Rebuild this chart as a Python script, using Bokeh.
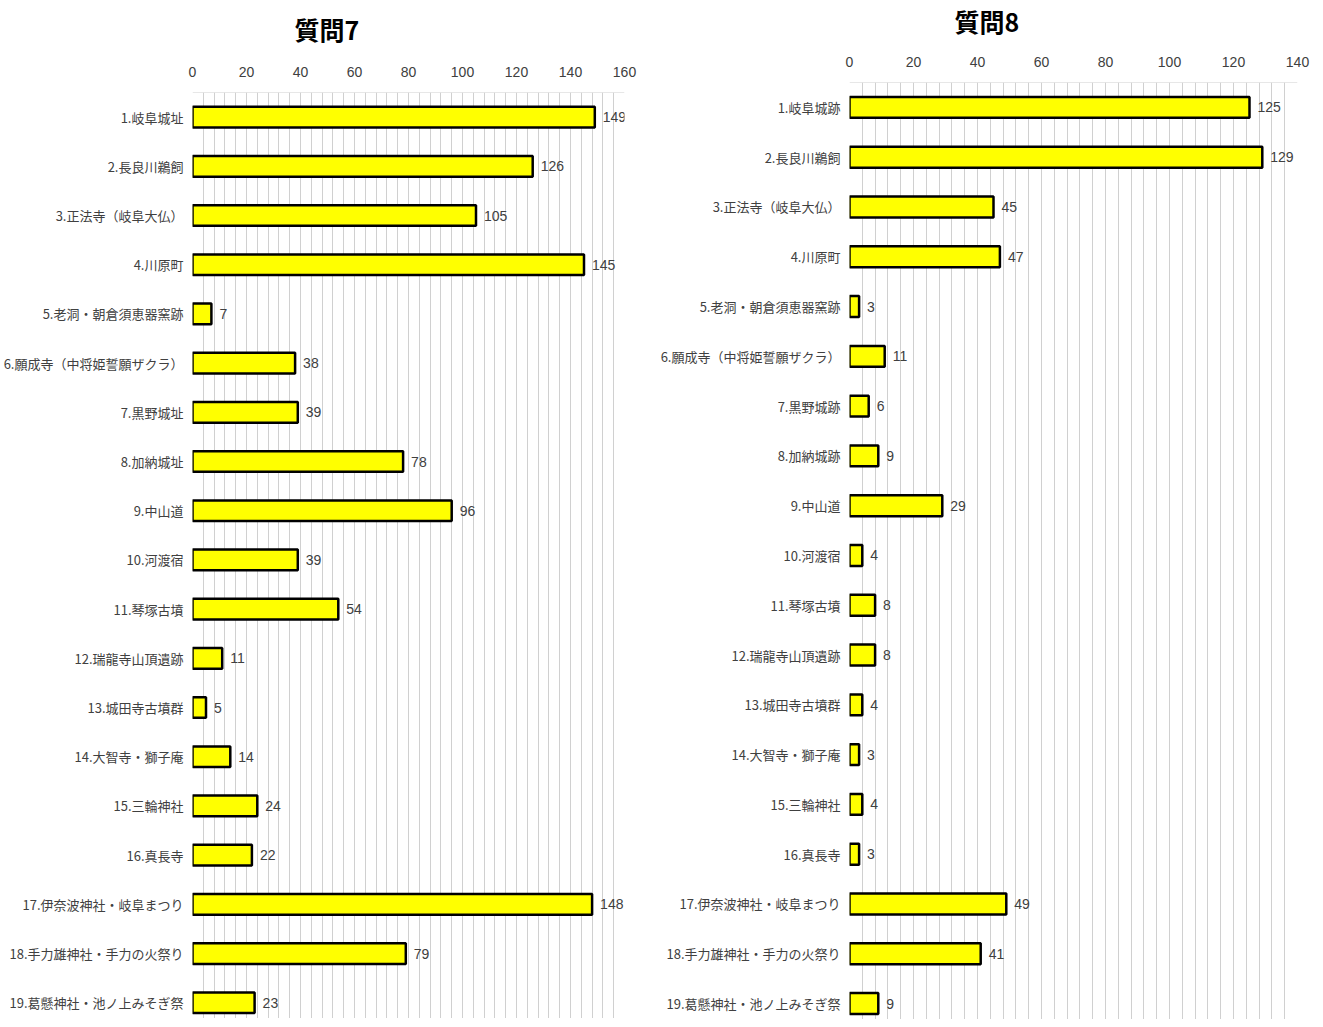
from bokeh.plotting import figure
from bokeh.layouts import row
from bokeh.models import Range1d, FixedTicker, SingleIntervalTicker, ColumnDataSource, Span
from bokeh.core.properties import value
from bokeh.embed import file_html
from bokeh.resources import INLINE

labels_q7 = ["1.岐阜城址", "2.長良川鵜飼", "3.正法寺（岐阜大仏）", "4.川原町", "5.老洞・朝倉須恵器窯跡",
             "6.願成寺（中将姫誓願ザクラ）", "7.黒野城址", "8.加納城址", "9.中山道", "10.河渡宿",
             "11.琴塚古墳", "12.瑞龍寺山頂遺跡", "13.城田寺古墳群", "14.大智寺・獅子庵", "15.三輪神社",
             "16.真長寺", "17.伊奈波神社・岐阜まつり", "18.手力雄神社・手力の火祭り", "19.葛懸神社・池ノ上みそぎ祭"]
values_q7 = [149, 126, 105, 145, 7, 38, 39, 78, 96, 39, 54, 11, 5, 14, 24, 22, 148, 79, 23]

labels_q8 = ["1.岐阜城跡", "2.長良川鵜飼", "3.正法寺（岐阜大仏）", "4.川原町", "5.老洞・朝倉須恵器窯跡",
             "6.願成寺（中将姫誓願ザクラ）", "7.黒野城跡", "8.加納城跡", "9.中山道", "10.河渡宿",
             "11.琴塚古墳", "12.瑞龍寺山頂遺跡", "13.城田寺古墳群", "14.大智寺・獅子庵", "15.三輪神社",
             "16.真長寺", "17.伊奈波神社・岐阜まつり", "18.手力雄神社・手力の火祭り", "19.葛懸神社・池ノ上みそぎ祭"]
values_q8 = [125, 129, 45, 47, 3, 11, 6, 9, 29, 4, 8, 8, 4, 3, 4, 3, 49, 41, 9]

title_q7 = "質問7"
title_q8 = "質問8"
xmax_q7 = 160
xmax_q8 = 140

JP = "Noto Sans CJK JP"
NUM = "Liberation Sans Narrow, Liberation Sans, sans-serif"
TXT = "#404040"
GRID = "#d0d0d0"


def make_chart(title, labels, vals, xmax, fw, fh, bl, br, bt, ybottom,
               title_offset, title_gap, tick_standoff):
    n = len(labels)
    idx = list(range(n))
    src = ColumnDataSource(dict(y=idx, v=vals, t=[str(v) for v in vals]))
    p = figure(frame_width=fw, frame_height=fh, output_backend="svg", toolbar_location=None,
               x_range=Range1d(0, xmax), y_range=Range1d(ybottom, -0.5),
               x_axis_location="above", title=title,
               min_border_left=bl, min_border_right=br, min_border_top=bt, min_border_bottom=0)
    p.frame_align = False
    p.title.text_font = JP
    p.title.text_font_size = "25px"
    p.title.text_font_style = "bold"
    p.title.text_color = "#000000"
    p.title.align = "left"
    p.title.offset = title_offset
    p.title.standoff = 0
    p.title.padding = dict(left=0, right=0, top=0, bottom=title_gap)

    p.add_layout(Span(location=-0.5, dimension="width", line_color=GRID, line_width=1))

    p.hbar(y="y", left=0, right="v", height=0.42, source=src,
           fill_color="#FFFF00", line_color="#000000", line_width=2.5)
    p.text(x="v", y="y", text="t", source=src, x_offset=8,
           text_baseline="middle", text_align="left",
           text_font=value(NUM), text_font_size="14px", text_color=TXT)

    xa = p.xaxis[0]
    xa.ticker = SingleIntervalTicker(interval=20, num_minor_ticks=0)
    xa.axis_line_color = None
    xa.major_tick_line_color = None
    xa.minor_tick_line_color = None
    xa.major_label_text_font = NUM
    xa.major_label_text_font_size = "14px"
    xa.major_label_text_color = TXT
    xa.major_label_standoff = tick_standoff

    ya = p.yaxis[0]
    ya.ticker = FixedTicker(ticks=idx)
    ya.major_label_overrides = {i: labels[i] for i in idx}
    ya.axis_line_color = None
    ya.major_tick_line_color = None
    ya.minor_tick_line_color = None
    ya.major_tick_in = 0
    ya.major_tick_out = 0
    ya.major_label_text_font = JP
    ya.major_label_text_font_size = "13px"
    ya.major_label_text_color = TXT
    ya.major_label_standoff = 9

    p.xgrid.ticker = SingleIntervalTicker(interval=4)
    p.xgrid.grid_line_color = GRID
    p.xgrid.grid_line_width = 1
    p.ygrid.grid_line_color = None
    p.outline_line_color = None
    p.background_fill_color = "white"
    p.border_fill_color = "white"
    return p


p1 = make_chart(title_q7, labels_q7, values_q7, xmax_q7, 432, 926, 185, 25, 92, 18.32, 102, 17, 10)
p2 = make_chart(title_q8, labels_q8, values_q8, xmax_q8, 448, 937, 200, 17, 81, 18.32, 105, 15, 10)

layout = row(p1, p2)
open("out.html", "w").write(file_html(layout, INLINE))
